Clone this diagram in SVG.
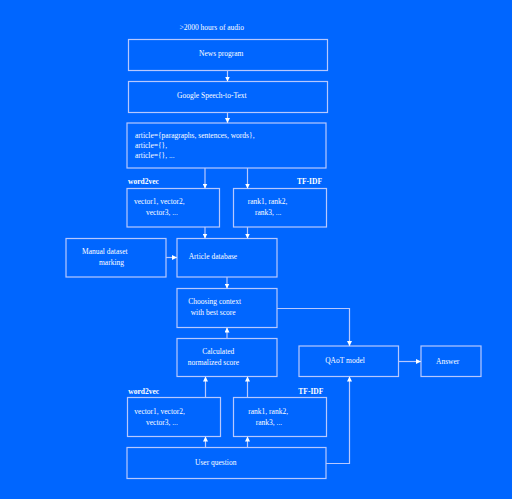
<svg xmlns="http://www.w3.org/2000/svg" width="512" height="499" viewBox="0 0 512 499">
<defs>
<style>
.box{fill:none;stroke:#b7c8ff;stroke-width:1.2}
.t{font-family:"Liberation Serif","Times New Roman",serif;font-size:7.5px;fill:#ffffff}
.b{font-weight:bold}
.c{text-anchor:middle}
.ln{fill:none;stroke:#b7c8ff;stroke-width:1.2}
</style>
<marker id="ah" markerUnits="userSpaceOnUse" markerWidth="6" markerHeight="5" refX="5" refY="2.5" orient="auto">
<path d="M0,0 L5,2.5 L0,5 Z" fill="#ffffff"/>
</marker>
</defs>
<rect width="512" height="499" fill="#0066ff"/>
<text class="t" x="179.5" y="29.5">&gt;2000 hours of audio</text>
<g id="news"><rect class="box" x="128.5" y="39.5" width="199" height="31"/><text class="t" x="199" y="56">News program</text></g>
<g id="google"><rect class="box" x="128.5" y="81.5" width="199" height="31"/><text class="t" x="177" y="98">Google Speech-to-Text</text></g>
<g id="article"><rect class="box" x="127" y="123" width="199" height="45"/>
<text class="t" x="135" y="137.5">article={paragraphs, sentences, words},</text>
<text class="t" x="135" y="147.7">article={},</text>
<text class="t" x="135" y="158">article={}, ...</text></g>
<text class="t b" x="128" y="184">word2vec</text>
<text class="t b" x="297" y="184">TF-IDF</text>
<g id="vec1"><rect class="box" x="127" y="188.5" width="92.5" height="38.5"/>
<text class="t" x="134" y="204">vector1, vector2,</text><text class="t" x="146" y="215">vector3, ...</text></g>
<g id="rank1"><rect class="box" x="233.5" y="188.5" width="93" height="38.5"/>
<text class="t" x="247.7" y="204">rank1, rank2,</text><text class="t" x="255" y="215">rank3, ...</text></g>
<g id="manual"><rect class="box" x="66" y="238.5" width="100" height="38.5"/>
<text class="t" x="82" y="254">Manual dataset</text><text class="t" x="99" y="264.5">marking</text></g>
<g id="db"><rect class="box" x="177" y="238.5" width="100" height="38.5"/>
<text class="t" x="188.7" y="259">Article database</text></g>
<g id="choose"><rect class="box" x="177" y="288.5" width="100" height="39"/>
<text class="t" x="188.3" y="304">Choosing context</text><text class="t" x="190.7" y="314.5">with best score</text></g>
<g id="calc"><rect class="box" x="177" y="338.5" width="100" height="38"/>
<text class="t c" x="218.3" y="354">Calculated</text><text class="t" x="187.7" y="364.5">normalized score</text></g>
<g id="qaot"><rect class="box" x="299" y="346" width="99.5" height="30.5"/>
<text class="t c" x="345" y="363">QAoT model</text></g>
<g id="answer"><rect class="box" x="421" y="346" width="60" height="30.5"/>
<text class="t c" x="447.7" y="364">Answer</text></g>
<text class="t b" x="128.3" y="393.5">word2vec</text>
<text class="t b" x="298.3" y="393.5">TF-IDF</text>
<g id="vec2"><rect class="box" x="127.5" y="397.5" width="93" height="39"/>
<text class="t" x="134.3" y="413.5">vector1, vector2,</text><text class="t" x="146" y="424.8">vector3, ...</text></g>
<g id="rank2"><rect class="box" x="233.5" y="397.5" width="93" height="39"/>
<text class="t" x="248.3" y="413.5">rank1, rank2,</text><text class="t" x="255.7" y="424.8">rank3, ...</text></g>
<g id="user"><rect class="box" x="127" y="447.5" width="199" height="31"/>
<text class="t c" x="215.7" y="464.5">User question</text></g>
<g id="connectors">
<path class="ln" d="M227.5,70.5 V81.5" marker-end="url(#ah)"/>
<path class="ln" d="M227.5,112.5 V123" marker-end="url(#ah)"/>
<path class="ln" d="M205,168 V188.5" marker-end="url(#ah)"/>
<path class="ln" d="M247.5,168 V188.5" marker-end="url(#ah)"/>
<path class="ln" d="M205,227 V238.5" marker-end="url(#ah)"/>
<path class="ln" d="M247.5,227 V238.5" marker-end="url(#ah)"/>
<path class="ln" d="M166,257.5 H177" marker-end="url(#ah)"/>
<path class="ln" d="M227,277 V288.5" marker-end="url(#ah)"/>
<path class="ln" d="M227,338.5 V327.5" marker-end="url(#ah)"/>
<path class="ln" d="M277,308.5 H349.5 V346" marker-end="url(#ah)"/>
<path class="ln" d="M398.5,361.5 H421" marker-end="url(#ah)"/>
<path class="ln" d="M205.5,397.5 V376.5" marker-end="url(#ah)"/>
<path class="ln" d="M247.5,397.5 V376.5" marker-end="url(#ah)"/>
<path class="ln" d="M205.5,447.5 V436.5" marker-end="url(#ah)"/>
<path class="ln" d="M247.5,447.5 V436.5" marker-end="url(#ah)"/>
<path class="ln" d="M326,463.5 H349.5 V376.5" marker-end="url(#ah)"/>
</g>
</svg>
